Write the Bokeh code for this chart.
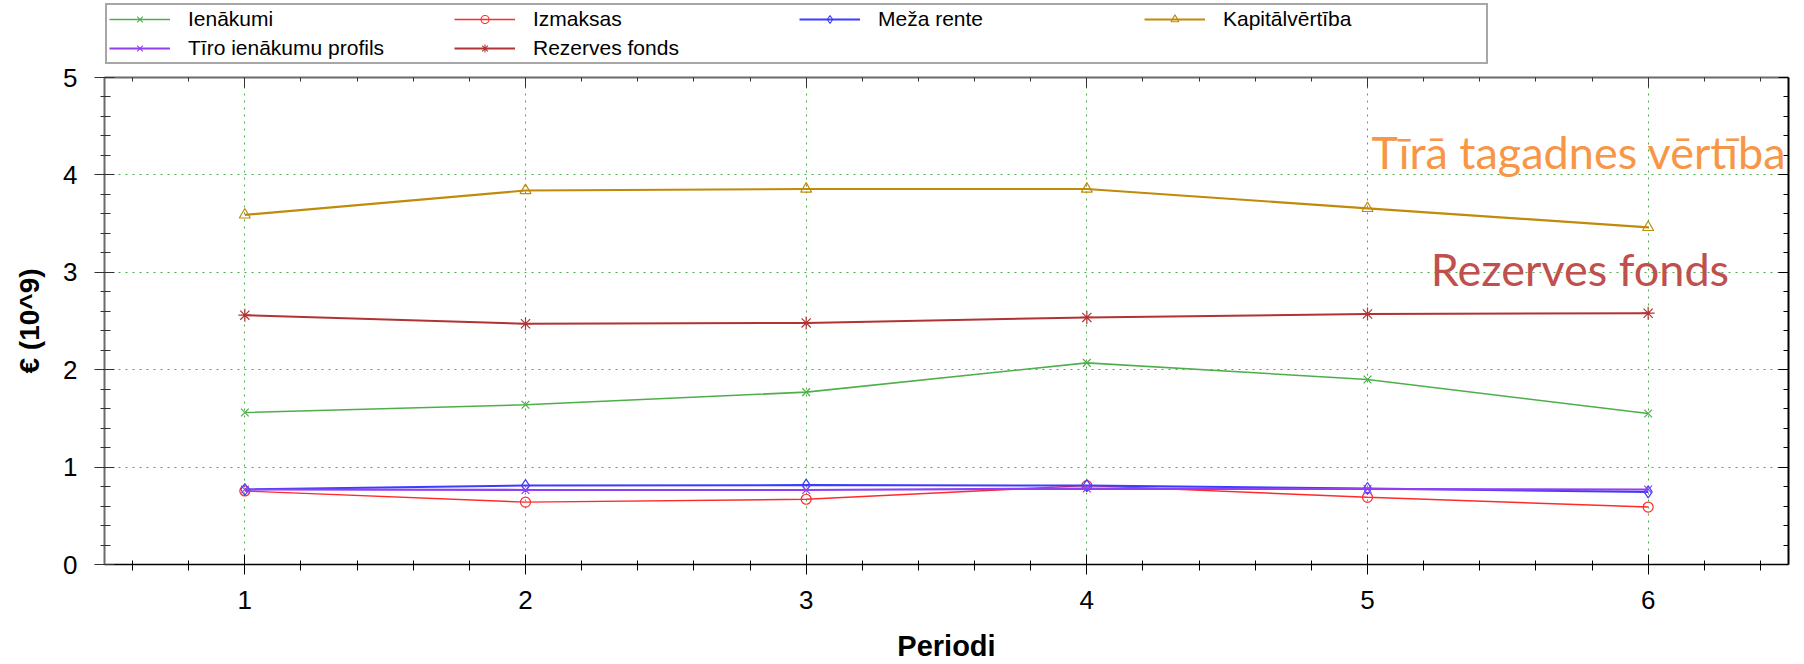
import numpy as np
from bokeh.plotting import figure
from bokeh.layouts import column
from bokeh.models import (FixedTicker, LinearAxis, Legend, LegendItem, Label,
                          Range1d, CustomJSTickFormatter)
from bokeh.embed import file_html
from bokeh.resources import INLINE

# ---- data ----
periods = [1, 2, 3, 4, 5, 6]
ienakumi = [1.56, 1.64, 1.77, 2.07, 1.90, 1.55]
izmaksas = [0.755, 0.64, 0.67, 0.81, 0.69, 0.59]
meza_rente = [0.77, 0.81, 0.815, 0.81, 0.78, 0.745]
kapitalvertiba = [3.59, 3.84, 3.855, 3.855, 3.657, 3.462]
tiro_profils = [0.77, 0.765, 0.765, 0.78, 0.775, 0.77]
rezerves_fonds = [2.56, 2.472, 2.48, 2.537, 2.572, 2.58]

series_names = ["Ienākumi", "Izmaksas", "Meža rente", "Kapitālvērtība",
                "Tīro ienākumu profils", "Rezerves fonds"]
y_ticks = [0, 1, 2, 3, 4, 5]
x_label = "Periodi"
y_label = "€ (10^9)"
note_npv = "Tīrā tagadnes vērtība"
note_reserve = "Rezerves fonds"

x_minor = [round(v, 1) for v in np.arange(0.6, 6.5, 0.2) if abs(v - round(v)) > 1e-6]
y_minor = [round(v, 1) for v in np.arange(0.2, 5.0, 0.2) if abs(v - round(v)) > 1e-6]

FONT = "Liberation Sans"
W = 1798
TOTAL_H = 664
LEG_H = 64

styles = [
    (ienakumi, "#4DAF4A", "x", 1.6, 11),
    (izmaksas, "#FF2A2A", "circle", 1.4, 10),
    (meza_rente, "#3C3CFF", "diamond", 2.0, 12),
    (kapitalvertiba, "#C08A0A", "triangle", 2.2, 11),
    (tiro_profils, "#9040F0", "x", 2.2, 11),
    (rezerves_fonds, "#B03434", "asterisk", 2.0, 13),
]

# ---------------- main chart ----------------
p = figure(width=W, height=TOTAL_H - LEG_H,
           x_range=Range1d(0.5, 6.5), y_range=Range1d(0, 5),
           output_backend="svg", toolbar_location=None,
           min_border_left=104, min_border_top=77 - LEG_H, min_border_right=10,
           min_border_bottom=95,
           x_axis_label=x_label, y_axis_label=y_label)
p.outline_line_color = None
p.background_fill_color = "white"

xticker = FixedTicker(ticks=periods, minor_ticks=x_minor)
yticker = FixedTicker(ticks=y_ticks, minor_ticks=y_minor)

for g in (p.xgrid[0], p.ygrid[0]):
    g.grid_line_color = "#2E9E2E"
    g.grid_line_dash = "2 5"
    g.grid_line_width = 1
    g.grid_line_alpha = 0.85
p.xgrid[0].ticker = xticker
p.ygrid[0].ticker = yticker

xa = p.xaxis[0]
xa.ticker = xticker
xa.axis_line_color = "black"
xa.axis_line_width = 1.5
xa.major_tick_line_color = "black"
xa.minor_tick_line_color = "black"
xa.major_tick_in = 10
xa.major_tick_out = 10
xa.minor_tick_in = 4
xa.minor_tick_out = 6
xa.major_label_text_font = FONT
xa.major_label_text_font_size = "26px"
xa.major_label_text_color = "black"
xa.major_label_standoff = 16
xa.axis_label_text_font = FONT
xa.axis_label_text_font_style = "bold"
xa.axis_label_text_font_size = "29px"
xa.axis_label_text_color = "black"
xa.axis_label_standoff = 18

ya = p.yaxis[0]
ya.ticker = yticker
ya.axis_line_color = "#6a6a6a"
ya.axis_line_width = 2
ya.major_tick_line_color = "#333333"
ya.minor_tick_line_color = "#333333"
ya.major_tick_in = 10
ya.major_tick_out = 10
ya.minor_tick_in = 6
ya.minor_tick_out = 4
ya.major_label_text_font = FONT
ya.major_label_text_font_size = "26px"
ya.major_label_text_color = "black"
ya.major_label_standoff = 17
ya.axis_label_text_font = FONT
ya.axis_label_text_font_style = "bold"
ya.axis_label_text_font_size = "28px"
ya.axis_label_text_color = "black"
ya.axis_label_standoff = 15

top = LinearAxis(ticker=xticker, formatter=CustomJSTickFormatter(code="return ''"),
                 axis_line_color="#6a6a6a", axis_line_width=2,
                 major_tick_in=10, major_tick_out=0, minor_tick_in=4, minor_tick_out=0,
                 major_label_standoff=0, major_label_text_color=None,
                 major_label_text_font_size="1px",
                 major_tick_line_color="#333333", minor_tick_line_color="#333333")
right = LinearAxis(ticker=yticker, formatter=CustomJSTickFormatter(code="return ''"),
                   axis_line_color="black", axis_line_width=2,
                   major_tick_in=10, major_tick_out=0, minor_tick_in=5, minor_tick_out=0,
                   major_label_standoff=0, major_label_text_color=None,
                   major_label_text_font_size="1px")
p.add_layout(top, "above")
p.add_layout(right, "right")

for name, (vals, col, mk, lw, ms) in zip(series_names, styles):
    p.line(periods, vals, line_color=col, line_width=lw)
    p.scatter(periods, vals, marker=mk, size=ms, line_color=col,
              fill_color=None, line_width=1.2)

p.add_layout(Label(x=5.754, y=4.24, text=note_npv, text_align="center",
                   text_baseline="alphabetic", text_font="Lato",
                   text_font_size="45px", text_color="#F79646"))
p.add_layout(Label(x=5.757, y=3.03, text=note_reserve, text_align="center",
                   text_baseline="alphabetic", text_font="Lato",
                   text_font_size="45px", text_color="#C0504D"))

# ---------------- legend strip ----------------
lf = figure(width=W, height=LEG_H, x_range=Range1d(0, 1), y_range=Range1d(0, 1),
            output_backend="svg", toolbar_location=None, min_border=0,
            x_axis_location=None, y_axis_location=None)
lf.outline_line_color = None
lf.xgrid.visible = False
lf.ygrid.visible = False

nan = [float("nan")]
items = []
for name, (vals, col, mk, lw, ms) in zip(series_names, styles):
    r1 = lf.line(nan, nan, line_color=col, line_width=lw)
    r2 = lf.scatter(nan, nan, marker=mk, size=ms - 2, line_color=col,
                    fill_color=None, line_width=1.1)
    items.append(LegendItem(label=name, renderers=[r1, r2]))

legend = Legend(items=items, location=(1, 0), orientation="horizontal", ncols=4,
                glyph_width=61, glyph_height=20, label_height=20, label_width=261,
                label_standoff=18, spacing=5, padding=2, margin=0,
                border_line_color="#505050", border_line_width=2,
                background_fill_color="white", background_fill_alpha=1,
                label_text_font=FONT, label_text_font_size="21px",
                label_text_color="black")
lf.add_layout(legend)

open("out.html", "w").write(file_html(column(lf, p), INLINE))
